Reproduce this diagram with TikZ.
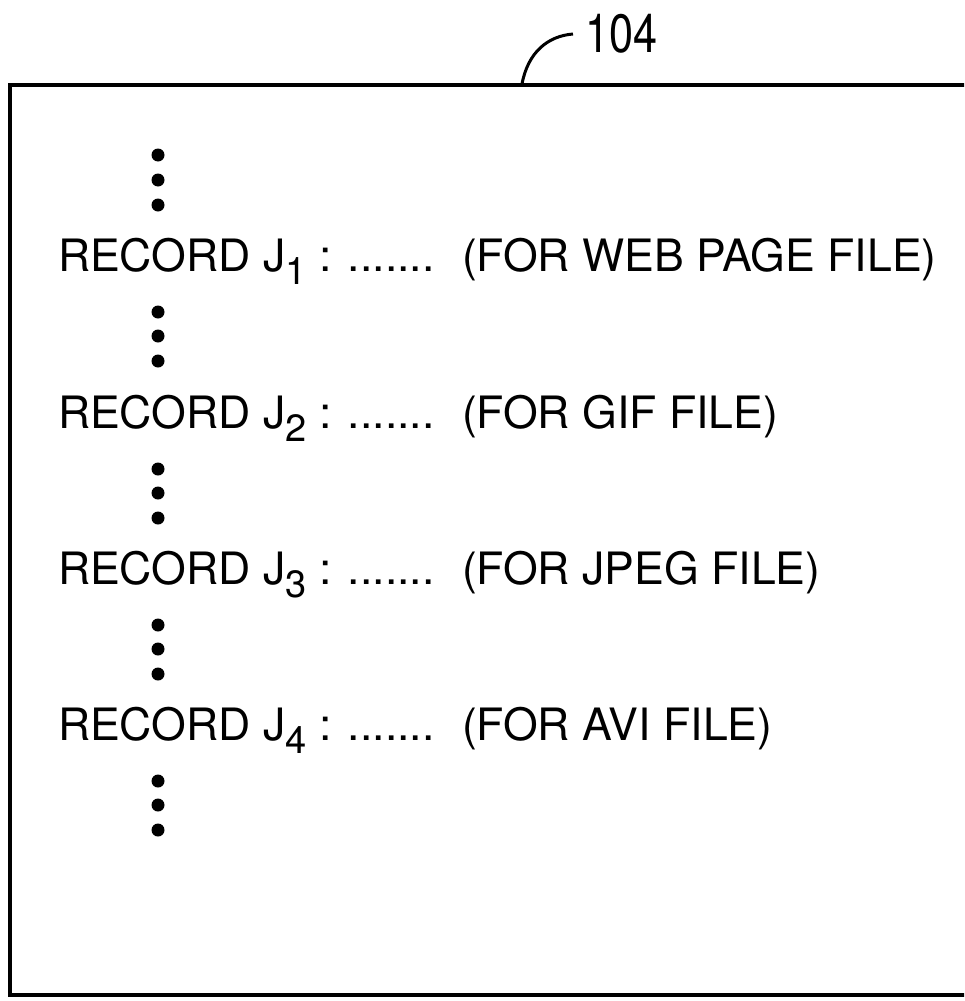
\documentclass[tikz,border=0pt]{standalone}
\usepackage{fontspec}
\setmainfont{TeX Gyre Heros}
\newfontfamily\narrowfont[FakeStretch=0.8]{TeX Gyre Heros}
\newcommand{\subidx}[1]{\raisebox{-13pt}{\fontsize{38pt}{40pt}\selectfont #1}}
\begin{document}
\begin{tikzpicture}[x=1pt,y=-1pt,inner sep=0pt,outer sep=0pt,
recline/.style={anchor=base west,font=\fontsize{44.6pt}{50pt}\selectfont},
vdot/.style={fill=black}]
\useasboundingbox (0,0) rectangle (964,1001);
\clip (0,0) rectangle (964,1001);
\draw[line width=4.5pt] (10,85) rectangle (1000,995);
\draw (573,34) node[anchor=west,inner xsep=12pt,inner ysep=0pt,font=\narrowfont\fontsize{54pt}{56pt}\selectfont] (ref) {104};
\draw[line width=3pt] (522,84) .. controls (528,52) and (548,36) .. (ref.west);
\fill[vdot] (158,155) circle (6.5pt) (158,180) circle (6.5pt) (158,205) circle (6.5pt);
\draw (58,271) node[recline] (rec1) {RECORD J\subidx{1} : .......};
\draw (462,271) node[recline] (note1) {(FOR WEB PAGE FILE)};
\fill[vdot] (158,312) circle (6.5pt) (158,336) circle (6.5pt) (158,361) circle (6.5pt);
\draw (58,428) node[recline] (rec2) {RECORD J\subidx{2} : .......};
\draw (462,428) node[recline] (note2) {(FOR GIF FILE)};
\fill[vdot] (158,469) circle (6.5pt) (158,493) circle (6.5pt) (158,518) circle (6.5pt);
\draw (58,584) node[recline] (rec3) {RECORD J\subidx{3} : .......};
\draw (462,584) node[recline] (note3) {(FOR JPEG FILE)};
\fill[vdot] (158,625) circle (6.5pt) (158,649) circle (6.5pt) (158,674) circle (6.5pt);
\draw (58,740) node[recline] (rec4) {RECORD J\subidx{4} : .......};
\draw (462,740) node[recline] (note4) {(FOR AVI FILE)};
\fill[vdot] (158,781) circle (6.5pt) (158,805) circle (6.5pt) (158,830) circle (6.5pt);
\end{tikzpicture}
\end{document}
